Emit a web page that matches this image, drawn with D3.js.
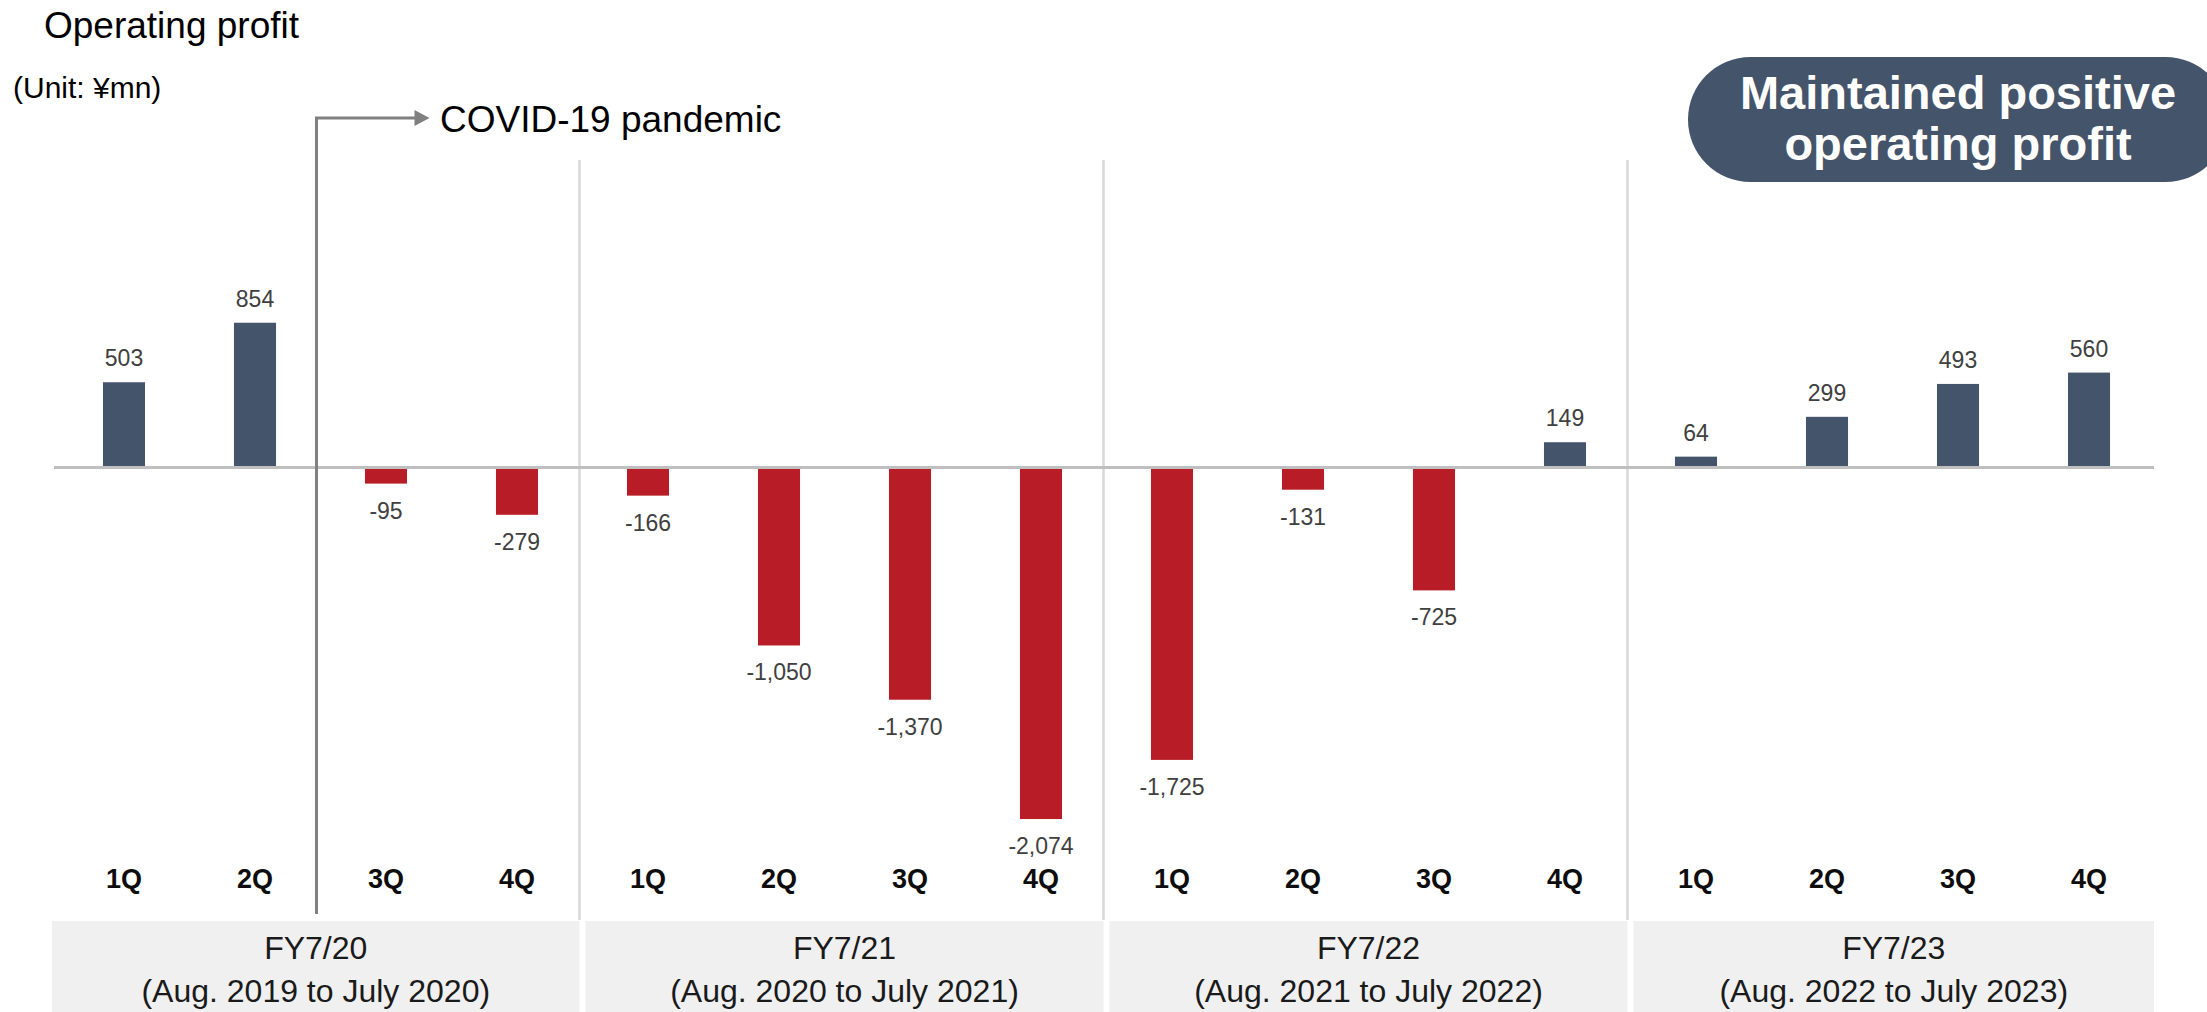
<!DOCTYPE html>
<html>
<head>
<meta charset="utf-8">
<script src="https://cdn.jsdelivr.net/npm/d3@7"></script>
<style>
  html, body { margin: 0; padding: 0; background: #fff; }
  svg { display: block; }
  text { font-family: "Liberation Sans", Arial, sans-serif; }
</style>
</head>
<body>
<svg id="chart" width="2207" height="1012"></svg>
<script>
// ---- Data ----
const fiscalYears = ["FY7/20", "FY7/21", "FY7/22", "FY7/23"];
const fiscalPeriods = ["(Aug. 2019 to July 2020)", "(Aug. 2020 to July 2021)", "(Aug. 2021 to July 2022)", "(Aug. 2022 to July 2023)"];
const quarters = ["1Q", "2Q", "3Q", "4Q"];
const fy20 = [503, 854, -95, -279];
const fy21 = [-166, -1050, -1370, -2074];
const fy22 = [-1725, -131, -725, 149];
const fy23 = [64, 299, 493, 560];
const seriesByYear = [fy20, fy21, fy22, fy23];
const titleText = "Operating profit";
const unitText = "(Unit: ¥mn)";
const annotationText = "COVID-19 pandemic";
const calloutLines = ["Maintained positive", "operating profit"];

// ---- Build rows ----
const rows = [];
seriesByYear.forEach((vals, gi) => {
  vals.forEach((v, qi) => rows.push({ key: fiscalYears[gi] + "-" + quarters[qi], fy: gi, q: quarters[qi], value: v }));
});

const posColor = "#44546A";
const negColor = "#B81D27";

const svg = d3.select("#chart");
const W = 2207, H = 1012;

const x = d3.scaleBand()
  .domain(rows.map(d => d.key))
  .range([58.5, 2154.5])
  .paddingInner(0.679)
  .paddingOuter(0.3395);

const y = d3.scaleLinear().domain([-2500, 1500]).range([891.25, 213.25]);

const step = x.step();
const bw = x.bandwidth();
const center = k => x(k) + bw / 2;
const groupStart = gi => center(fiscalYears[gi] + "-1Q") - step / 2;
const groupEnd = gi => center(fiscalYears[gi] + "-4Q") + step / 2;

// ---- Bottom fiscal year boxes ----
const boxTop = 921;
fiscalYears.forEach((fy, gi) => {
  const left = gi === 0 ? 52 : groupStart(gi) + 3;
  const right = gi === fiscalYears.length - 1 ? 2154 : groupEnd(gi) - 3;
  svg.append("rect")
    .attr("x", left).attr("y", boxTop)
    .attr("width", right - left).attr("height", H - boxTop)
    .attr("fill", "#F0F0F0");
  const cx = (left + right) / 2;
  svg.append("text").attr("x", cx).attr("y", 959)
    .attr("text-anchor", "middle").attr("font-size", 32).attr("fill", "#1a1a1a")
    .text(fy);
  svg.append("text").attr("x", cx).attr("y", 1002)
    .attr("text-anchor", "middle").attr("font-size", 32).attr("fill", "#1a1a1a")
    .text(fiscalPeriods[gi]);
});

// ---- Group separators ----
for (let gi = 1; gi < fiscalYears.length; gi++) {
  const sx = groupStart(gi) - 3;
  svg.append("line")
    .attr("x1", sx).attr("x2", sx).attr("y1", 160).attr("y2", 920)
    .attr("stroke", "#D9D9D9").attr("stroke-width", 2.5);
}

// ---- Zero baseline ----
svg.append("line")
  .attr("x1", 54).attr("x2", 2154)
  .attr("y1", y(0)).attr("y2", y(0))
  .attr("stroke", "#BFBFBF").attr("stroke-width", 3);

// ---- Bars ----
svg.append("g").selectAll("rect")
  .data(rows).join("rect")
  .attr("x", d => x(d.key))
  .attr("width", bw)
  .attr("y", d => d.value >= 0 ? y(d.value) : y(0) + 1.5)
  .attr("height", d => d.value >= 0 ? y(0) - 1.5 - y(d.value) : y(d.value) - y(0) - 1.5)
  .attr("fill", d => d.value >= 0 ? posColor : negColor);

// ---- Value labels ----
const fmt = d3.format(",");
svg.append("g").selectAll("text")
  .data(rows).join("text")
  .attr("x", d => center(d.key))
  .attr("y", d => d.value >= 0 ? y(d.value) - 16 : y(d.value) + 35)
  .attr("text-anchor", "middle")
  .attr("font-size", 23)
  .attr("fill", "#404040")
  .text(d => d.value < 0 ? "-" + fmt(-d.value) : fmt(d.value));

// ---- Quarter labels ----
svg.append("g").selectAll("text")
  .data(rows).join("text")
  .attr("x", d => center(d.key))
  .attr("y", 888)
  .attr("text-anchor", "middle")
  .attr("font-size", 27)
  .attr("font-weight", "bold")
  .attr("fill", "#0D0D0D")
  .text(d => d.q);

// ---- COVID annotation ----
const covidX = center("FY7/20-3Q") - step / 2 - 4;
const arrowY = 118;
svg.append("path")
  .attr("d", `M${covidX},914 L${covidX},${arrowY} L${covidX + 102},${arrowY}`)
  .attr("fill", "none").attr("stroke", "#808080").attr("stroke-width", 3);
svg.append("path")
  .attr("d", `M${covidX + 98},${arrowY - 8} L${covidX + 113},${arrowY} L${covidX + 98},${arrowY + 8} Z`)
  .attr("fill", "#808080");
svg.append("text").attr("x", 440).attr("y", 132)
  .attr("font-size", 37).attr("fill", "#000")
  .text(annotationText);

// ---- Titles ----
svg.append("text").attr("x", 44).attr("y", 37.5)
  .attr("font-size", 37).attr("fill", "#000").text(titleText);
svg.append("text").attr("x", 13).attr("y", 98)
  .attr("font-size", 30).attr("fill", "#000").text(unitText);

// ---- Callout pill ----
svg.append("rect")
  .attr("x", 1688).attr("y", 57).attr("width", 540).attr("height", 125)
  .attr("rx", 62.5).attr("ry", 62.5)
  .attr("fill", posColor);
calloutLines.forEach((t, i) => {
  svg.append("text").attr("x", 1958).attr("y", 109 + i * 51)
    .attr("text-anchor", "middle").attr("font-size", 47).attr("font-weight", "bold")
    .attr("fill", "#fff").text(t);
});
</script>
</body>
</html>
